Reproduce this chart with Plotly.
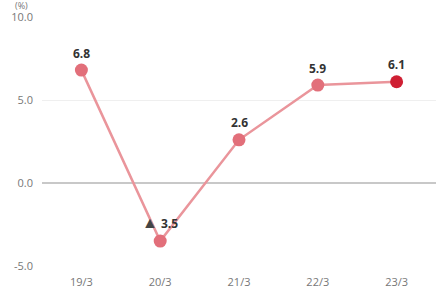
import plotly.graph_objects as go

categories = ["19/3", "20/3", "21/3", "22/3", "23/3"]
values = [6.8, -3.5, 2.6, 5.9, 6.1]
labels = ["<b>6.8</b>", "<span style='font-size:16px;color:#444444'>▲</span> <b>3.5</b>", "<b>2.6</b>", "<b>5.9</b>", "<b>6.1</b>"]
y_ticks = [-5, 0, 5, 10]
y_tick_text = ["-5.0", "0.0", "5.0", "10.0"]

marker_colors = ["#E26F7A"] * 4 + ["#CF1F33"]

fig = go.Figure()
fig.add_trace(go.Scatter(
    x=categories, y=values, mode="lines+markers",
    line=dict(color="#EA959B", width=2.5),
    marker=dict(size=13, color=marker_colors, line=dict(width=0)),
    hoverinfo="skip", showlegend=False,
))

for c, v, t in zip(categories, values, labels):
    neg = v < 0
    fig.add_annotation(
        x=c, y=v, text=t, showarrow=False,
        xshift=0, yshift=19 if neg else 17,
        font=dict(family="Open Sans, Noto Sans, sans-serif", size=12, color="#333333"),
    )

fig.add_annotation(
    xref="paper", yref="paper", x=-0.053, y=1.0, yshift=12, xanchor="center",
    yanchor="middle", borderpad=0,
    text="(%)", showarrow=False,
    font=dict(family="Open Sans, Noto Sans, sans-serif", size=9, color="#777777"),
)

fig.update_layout(
    width=448, height=290,
    margin=dict(l=42, r=12, t=17, b=24, autoexpand=False),
    plot_bgcolor="white", paper_bgcolor="white",
    font=dict(family="Open Sans, Noto Sans, sans-serif", size=11, color="#777777"),
    xaxis=dict(type="category", range=[-0.5, 4.5], showgrid=False, zeroline=False,
               showline=False, ticks="", ticklabelstandoff=8, automargin=False,
               tickfont=dict(size=11, color="#777777")),
    yaxis=dict(range=[-5, 10], tickvals=y_ticks, ticktext=y_tick_text,
               showgrid=True, gridcolor="#EFEFEF", gridwidth=1,
               zeroline=True, zerolinecolor="#C8C8C8", zerolinewidth=1.5,
               showline=False, ticks="", ticklabelstandoff=8, automargin=False,
               tickfont=dict(size=11, color="#777777")),
)

fig.write_html("out.html")
